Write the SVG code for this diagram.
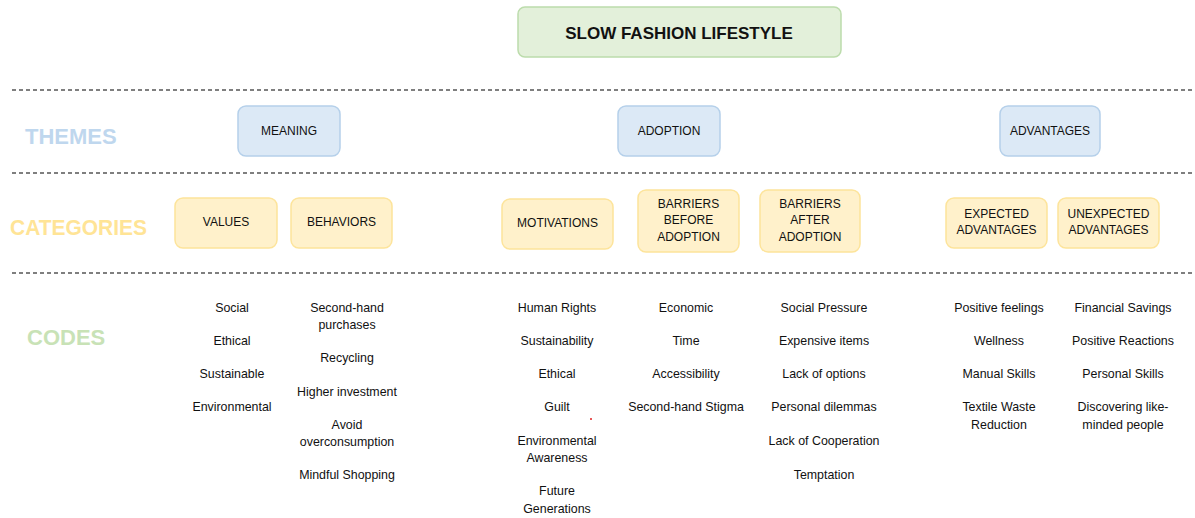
<svg xmlns="http://www.w3.org/2000/svg" width="1195" height="518" viewBox="0 0 1195 518">
<style>
text{font-family:"Liberation Sans",Arial,sans-serif;fill:#111;text-anchor:middle;dominant-baseline:central}
.title{font-size:17px;font-weight:bold}
.lbl{font-size:22px;font-weight:bold;text-anchor:start}
.box{font-size:12px}
.code{font-size:12.4px}
.theme rect{fill:#dce9f6;stroke:#b5d0ea;stroke-width:1.5}
.cat rect{fill:#fff1cb;stroke:#fde49b;stroke-width:1.5}
.sep{stroke:#555;stroke-width:1.5;stroke-dasharray:4 3}
</style>
<rect width="1195" height="518" fill="#fff"/>
<g id="connectors">
<line class="sep" x1="12" y1="90" x2="1195" y2="90"/>
<line class="sep" x1="12" y1="173" x2="1195" y2="173"/>
<line class="sep" x1="12" y1="273" x2="1195" y2="273"/>
</g>
<g id="title">
<rect x="518" y="7" width="323" height="50" rx="7" fill="#e3f0da" stroke="#bcdcac" stroke-width="1.5"/>
<text class="title" x="679" y="33">SLOW FASHION LIFESTYLE</text>
</g>
<g id="labels">
<text class="lbl" x="25" y="136" style="fill:#bfd7ee">THEMES</text>
<text class="lbl" x="10" y="227" textLength="137" lengthAdjust="spacingAndGlyphs" style="fill:#ffe496">CATEGORIES</text>
<text class="lbl" x="27" y="337" style="fill:#c8e2b6">CODES</text>
</g>
<g id="theme-meaning" class="theme"><rect x="238" y="106" width="102" height="50" rx="8"/><text class="box" x="289" y="131">MEANING</text></g>
<g id="theme-adoption" class="theme"><rect x="618" y="106" width="102" height="50" rx="8"/><text class="box" x="669" y="131">ADOPTION</text></g>
<g id="theme-advantages" class="theme"><rect x="1000" y="106" width="100" height="50" rx="8"/><text class="box" x="1050" y="131">ADVANTAGES</text></g>
<g id="cat-values" class="cat"><rect x="175" y="198" width="102" height="50" rx="8"/><text class="box" x="226" y="222">VALUES</text></g>
<g id="cat-behaviors" class="cat"><rect x="291" y="198" width="101" height="50" rx="8"/><text class="box" x="341.5" y="222">BEHAVIORS</text></g>
<g id="cat-motivations" class="cat"><rect x="502" y="199" width="111" height="50" rx="8"/><text class="box" x="557.5" y="223">MOTIVATIONS</text></g>
<g id="cat-barriers-before" class="cat"><rect x="638" y="190" width="101" height="62" rx="8"/><text class="box" x="688.5" y="204">BARRIERS</text><text class="box" x="688.5" y="220">BEFORE</text><text class="box" x="688.5" y="237">ADOPTION</text></g>
<g id="cat-barriers-after" class="cat"><rect x="760" y="190" width="100" height="62" rx="8"/><text class="box" x="810" y="204">BARRIERS</text><text class="box" x="810" y="220">AFTER</text><text class="box" x="810" y="237">ADOPTION</text></g>
<g id="cat-expected" class="cat"><rect x="946" y="198" width="101" height="50" rx="8"/><text class="box" x="996.5" y="214">EXPECTED</text><text class="box" x="996.5" y="230">ADVANTAGES</text></g>
<g id="cat-unexpected" class="cat"><rect x="1058" y="198" width="101" height="50" rx="8"/><text class="box" x="1108.5" y="214">UNEXPECTED</text><text class="box" x="1108.5" y="230">ADVANTAGES</text></g>
<g id="codes-values" class="code">
<text x="232" y="308">Social</text><text x="232" y="341">Ethical</text><text x="232" y="374">Sustainable</text><text x="232" y="407">Environmental</text>
</g>
<g id="codes-behaviors" class="code">
<text x="347" y="308">Second-hand</text><text x="347" y="325">purchases</text><text x="347" y="358">Recycling</text><text x="347" y="392">Higher investment</text><text x="347" y="425">Avoid</text><text x="347" y="442">overconsumption</text><text x="347" y="475">Mindful Shopping</text>
</g>
<g id="codes-motivations" class="code">
<text x="557" y="308">Human Rights</text><text x="557" y="341">Sustainability</text><text x="557" y="374">Ethical</text><text x="557" y="407">Guilt</text><text x="557" y="441">Environmental</text><text x="557" y="458">Awareness</text><text x="557" y="491">Future</text><text x="557" y="509">Generations</text>
</g>
<circle cx="591" cy="419" r="1" fill="#e02020"/>
<g id="codes-barriers-before" class="code">
<text x="686" y="308">Economic</text><text x="686" y="341">Time</text><text x="686" y="374">Accessibility</text><text x="686" y="407">Second-hand Stigma</text>
</g>
<g id="codes-barriers-after" class="code">
<text x="824" y="308">Social Pressure</text><text x="824" y="341">Expensive items</text><text x="824" y="374">Lack of options</text><text x="824" y="407">Personal dilemmas</text><text x="824" y="441">Lack of Cooperation</text><text x="824" y="475">Temptation</text>
</g>
<g id="codes-expected" class="code">
<text x="999" y="308">Positive feelings</text><text x="999" y="341">Wellness</text><text x="999" y="374">Manual Skills</text><text x="999" y="407">Textile Waste</text><text x="999" y="425">Reduction</text>
</g>
<g id="codes-unexpected" class="code">
<text x="1123" y="308">Financial Savings</text><text x="1123" y="341">Positive Reactions</text><text x="1123" y="374">Personal Skills</text><text x="1123" y="407">Discovering like-</text><text x="1123" y="425">minded people</text>
</g>
</svg>
